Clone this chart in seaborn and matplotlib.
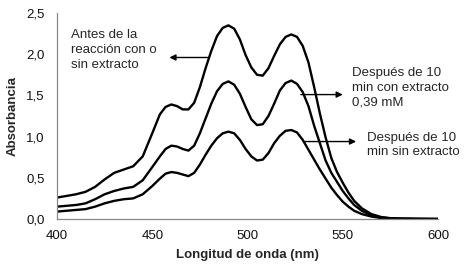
import matplotlib
matplotlib.use("Agg")
import matplotlib.pyplot as plt
import seaborn as sns
import pandas as pd

# Wavelengths (nm)
wavelength = [400, 405, 410, 415, 420, 425, 430, 435, 440, 445, 450, 454, 457, 460, 463, 466, 469,
              472, 475, 478, 481, 484, 487, 490, 493, 496, 499, 502, 505, 508, 511, 514, 517,
              520, 523, 526, 529, 532, 535, 538, 541, 544, 547, 550, 553, 556, 560, 565, 570,
              575, 580, 590, 600]

antes = [0.26, 0.28, 0.30, 0.33, 0.39, 0.48, 0.56, 0.60, 0.64, 0.76, 1.04, 1.27, 1.36, 1.39, 1.37,
         1.33, 1.33, 1.41, 1.60, 1.83, 2.04, 2.22, 2.32, 2.35, 2.31, 2.18, 1.99, 1.84, 1.75,
         1.74, 1.83, 1.98, 2.12, 2.21, 2.24, 2.21, 2.10, 1.90, 1.60, 1.28, 0.99, 0.74, 0.57,
         0.44, 0.32, 0.22, 0.13, 0.06, 0.025, 0.01, 0.005, 0.002, 0.0]

con_extracto = [0.15, 0.16, 0.17, 0.19, 0.24, 0.30, 0.34, 0.37, 0.39, 0.47, 0.63, 0.76, 0.85, 0.89,
                0.88, 0.85, 0.83, 0.89, 1.04, 1.22, 1.40, 1.55, 1.64, 1.67, 1.63, 1.52, 1.36,
                1.21, 1.14, 1.15, 1.25, 1.40, 1.56, 1.65, 1.68, 1.64, 1.54, 1.37, 1.13, 0.92,
                0.71, 0.56, 0.45, 0.34, 0.25, 0.17, 0.10, 0.045, 0.018, 0.008, 0.004, 0.001, 0.0]

sin_extracto = [0.09, 0.10, 0.11, 0.12, 0.15, 0.19, 0.22, 0.24, 0.25, 0.30, 0.40, 0.49, 0.55, 0.57,
                0.56, 0.54, 0.52, 0.56, 0.66, 0.78, 0.89, 0.98, 1.04, 1.06, 1.04, 0.96, 0.85,
                0.76, 0.71, 0.72, 0.80, 0.92, 1.01, 1.07, 1.08, 1.05, 0.96, 0.84, 0.72, 0.60,
                0.49, 0.38, 0.29, 0.21, 0.15, 0.10, 0.06, 0.03, 0.012, 0.006, 0.003, 0.001, 0.0]

x_ticks = [400, 450, 500, 550, 600]
x_tick_labels = ["400", "450", "500", "550", "600"]
y_ticks = [0.0, 0.5, 1.0, 1.5, 2.0, 2.5]
y_tick_labels = ["0,0", "0,5", "1,0", "1,5", "2,0", "2,5"]

label_antes = "Antes de la\nreacción con o\nsin extracto"
label_con = "Después de 10\nmin con extracto\n0,39 mM"
label_sin = "Después de 10\nmin sin extracto"

sns.set_style("white")
plt.rcParams['font.family'] = ['Liberation Sans', 'DejaVu Sans']

df = pd.concat([
    pd.DataFrame({"wl": wavelength, "abs": antes, "serie": "antes"}),
    pd.DataFrame({"wl": wavelength, "abs": con_extracto, "serie": "con"}),
    pd.DataFrame({"wl": wavelength, "abs": sin_extracto, "serie": "sin"}),
])

fig = plt.figure(figsize=(4.67, 2.67), dpi=100)
ax = fig.add_axes([57/467, 48/267, 381/467, 206/267])

sns.lineplot(data=df, x="wl", y="abs", hue="serie", sort=False,
             palette={"antes": "black", "con": "black", "sin": "black"},
             linewidth=1.7, legend=False, ax=ax)

ax.set_xlim(400, 600)
ax.set_ylim(0, 2.5)
ax.set_xticks(x_ticks)
ax.set_xticklabels(x_tick_labels)
ax.set_yticks(y_ticks)
ax.set_yticklabels(y_tick_labels)
ax.tick_params(axis="both", direction="out", length=4, width=0.8, color="#888888",
               labelsize=9.5, labelcolor="#111111")
ax.tick_params(axis="x", pad=4)
ax.tick_params(axis="y", pad=5)

for s in ["top", "right"]:
    ax.spines[s].set_visible(False)
for s in ["left", "bottom"]:
    ax.spines[s].set_color("#888888")
    ax.spines[s].set_linewidth(0.9)

ax.set_xlabel("Longitud de onda (nm)", fontsize=9.5, fontweight="bold", labelpad=5)
ax.set_ylabel("Absorbancia", fontsize=9.5, fontweight="bold", labelpad=5)

# Annotations
ax.text(407.5, 2.30, label_antes, fontsize=9.5, va="top", ha="left", linespacing=1.3)
ax.text(555, 1.84, label_con, fontsize=9.5, va="top", ha="left", linespacing=1.3, clip_on=False)
ax.text(562.5, 1.06, label_sin, fontsize=9.5, va="top", ha="left", linespacing=1.3, clip_on=False)

arrow = dict(arrowstyle="-|>", color="black", lw=1.0, shrinkA=0, shrinkB=0, mutation_scale=9)
ax.annotate("", xy=(459, 1.96), xytext=(480, 1.96), arrowprops=arrow)
ax.annotate("", xy=(550, 1.51), xytext=(528, 1.51), arrowprops=arrow, annotation_clip=False)
ax.annotate("", xy=(557, 0.94), xytext=(530, 0.94), arrowprops=arrow, annotation_clip=False)

fig.savefig("out.png", dpi=100)
